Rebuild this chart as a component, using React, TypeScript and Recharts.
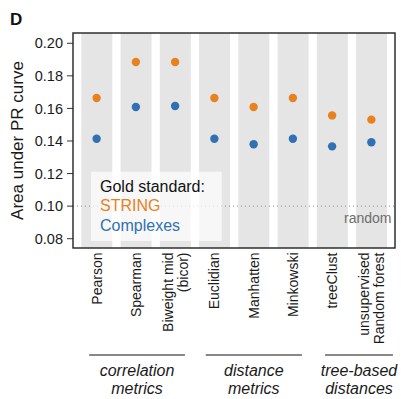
import { Bar, ComposedChart, Line, ReferenceLine, XAxis, YAxis } from "recharts";

const FONT = "'Liberation Sans', Arial, Helvetica, sans-serif";
const ORANGE = "#E8821E";
const BLUE = "#3070B3";
const BAND = "#E5E5E5";

// similarity measures, one column each ("\n" splits a label in two lines)
const methods = [
  "Pearson",
  "Spearman",
  "Biweight mid\n(bicor)",
  "Euclidian",
  "Manhatten",
  "Minkowski",
  "treeClust",
  "unsupervised\nRandom forest",
];
const stringAuc = [0.1664, 0.1885, 0.1885, 0.1664, 0.1609, 0.1664, 0.1557, 0.1531];
const complexAuc = [0.1414, 0.1609, 0.1615, 0.1414, 0.138, 0.1414, 0.1367, 0.1392];
const yTicks = [0.08, 0.1, 0.12, 0.14, 0.16, 0.18, 0.2];
const randomAuc = 0.1;

const Y_MIN = 0.0743;
const Y_MAX = 0.2063;

// groups of methods, positions in category units (0 = first column)
const groups = [
  { lines: ["correlation", "metrics"], from: -0.19, to: 2.25 },
  { lines: ["distance", "metrics"], from: 2.78, to: 5.23 },
  { lines: ["tree-based", "distances"], from: 5.82, to: 7.55 },
];

const data = methods.map((method, i) => ({
  method,
  band: Y_MAX,
  string: stringAuc[i],
  complexes: complexAuc[i],
}));

const W = 401;
const H = 399;
const PLOT = { left: 73, top: 33, right: 395, bottom: 248 };
const X_PAD = 4;
const step = (PLOT.right - PLOT.left - 2 * X_PAD) / methods.length;
const catX = (i: number) => PLOT.left + X_PAD + step * (i + 0.5);

function MethodTick(props: any) {
  const { x, y, payload } = props;
  const parts = String(payload.value).split("\n");
  const offsets = parts.length === 1 ? [5] : [-2, 13];
  return (
    <g transform={`translate(${x},${y + 4.5})`}>
      <text
        transform="rotate(-90)"
        textAnchor="end"
        fontSize={14}
        fontFamily={FONT}
        fill="#1a1a1a"
      >
        {parts.map((p, k) => (
          <tspan key={k} x={0} y={offsets[k]}>
            {p}
          </tspan>
        ))}
      </text>
    </g>
  );
}

export default function App() {
  return (
    <div style={{ position: "absolute", left: 0, top: 0, width: W, height: H, background: "#fff" }}>
      <ComposedChart
        width={W}
        height={H}
        data={data}
        barCategoryGap="11%"
        margin={{ top: PLOT.top, right: W - PLOT.right, bottom: H - PLOT.bottom - 100, left: 0 }}
      >
        <XAxis
          dataKey="method"
          type="category"
          interval={0}
          padding={{ left: X_PAD, right: X_PAD }}
          axisLine={false}
          tickLine={false}
          tickSize={0}
          tickMargin={0}
          height={100}
          tick={<MethodTick />}
        />
        <YAxis
          type="number"
          domain={[Y_MIN, Y_MAX]}
          allowDataOverflow
          ticks={yTicks}
          width={PLOT.left}
          axisLine={false}
          tickSize={6}
          tickMargin={4}
          tickLine={{ stroke: "#333" }}
          tick={{ fontSize: 14.5, fill: "#1a1a1a", fontFamily: FONT }}
          tickFormatter={(v: number) => v.toFixed(2)}
        />
        <Bar dataKey="band" fill={BAND} isAnimationActive={false} />
        <ReferenceLine y={randomAuc} stroke="#8c8c8c" strokeDasharray="1 3" strokeWidth={1} />
        <Line
          dataKey="string"
          stroke="none"
          isAnimationActive={false}
          dot={{ r: 4.2, fill: ORANGE, stroke: "none" }}
          activeDot={false}
        />
        <Line
          dataKey="complexes"
          stroke="none"
          isAnimationActive={false}
          dot={{ r: 4.2, fill: BLUE, stroke: "none" }}
          activeDot={false}
        />
      </ComposedChart>

      <svg
        width={W}
        height={H}
        style={{ position: "absolute", left: 0, top: 0, pointerEvents: "none" }}
        fontFamily={FONT}
      >
        <text x={10} y={24.5} fontSize={17} fontWeight="bold" fill="#111">
          D
        </text>
        <text
          transform={`translate(23,${(PLOT.top + PLOT.bottom) / 2}) rotate(-90)`}
          textAnchor="middle"
          fontSize={17}
          fill="#1a1a1a"
        >
          Area under PR curve
        </text>

        <text x={391.5} y={223} textAnchor="end" fontSize={14} fill="#6e6e6e">
          random
        </text>

        {/* legend box */}
        <rect x={91} y={171.7} width={130.7} height={69.3} fill="#fff" fillOpacity={0.7} />
        <text x={100} y={191.5} fontSize={16} fill="#111">
          Gold standard:
        </text>
        <text x={100} y={211} fontSize={16} fill={ORANGE}>
          STRING
        </text>
        <text x={100} y={230.5} fontSize={16} fill={BLUE}>
          Complexes
        </text>

        {/* panel border */}
        <rect
          x={PLOT.left}
          y={PLOT.top}
          width={PLOT.right - PLOT.left}
          height={PLOT.bottom - PLOT.top}
          fill="none"
          stroke="#222"
          strokeWidth={1.4}
        />

        {groups.map((g) => {
          const x1 = catX(g.from);
          const x2 = catX(g.to);
          const mid = (x1 + x2) / 2;
          return (
            <g key={g.lines[0]}>
              <line x1={x1} x2={x2} y1={355} y2={355} stroke="#111" strokeWidth={1} />
              {g.lines.map((t, k) => (
                <text
                  key={t}
                  x={mid}
                  y={376 + k * 18}
                  textAnchor="middle"
                  fontSize={16}
                  fontStyle="italic"
                  fill="#1a1a1a"
                >
                  {t}
                </text>
              ))}
            </g>
          );
        })}
      </svg>
    </div>
  );
}
